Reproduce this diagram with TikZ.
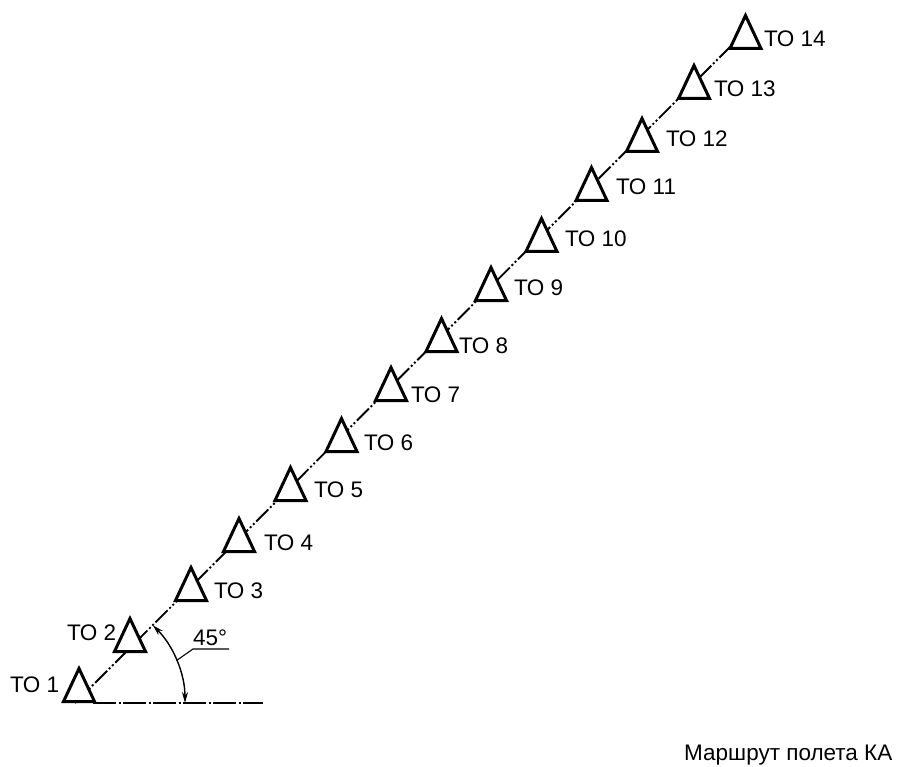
\documentclass[tikz,border=0pt]{standalone}
\usepackage{fontspec}
\setmainfont{Liberation Sans}
\usetikzlibrary{arrows.meta,calc}
\begin{document}
\begin{tikzpicture}[x=1pt,y=-1pt,
  tri/.style={draw=black,fill=white,line width=3pt,line join=miter},
  axisline/.style={line width=1.9pt,dash pattern=on 23pt off 2.5pt on 2pt off 2.5pt},
  routeline/.style={line width=1.9pt,dash pattern=on 17pt off 2.5pt on 2pt off 2.5pt on 2pt off 2.5pt},
  lbl/.style={anchor=base west,inner sep=0pt,font=\fontsize{22.5}{27}\selectfont},
  dimarc/.style={line width=1.4pt,{Stealth[length=11pt,width=6pt]}-{Stealth[length=11pt,width=6pt]}},
  leader/.style={line width=1.1pt}]
\useasboundingbox (0,0) rectangle (907,767);
% axes
\coordinate (v) at (75,703);
\coordinate (hstart) at (93,703);
\coordinate (hend) at (263,703);
\coordinate (rend) at (732,45);
\draw[axisline] (hstart) -- (hend);
\draw[routeline] (v) -- (rend);
% triangles
\foreach \n/\x/\y in {1/79/701.5,2/130/651.5,3/191/600.5,4/239/551.5,5/290.5/500.5,6/341.5/451.5,7/391/400.5,8/441.5/351.5,9/491/300.5,10/541.5/251.5,11/591.5/200.5,12/642/151.5,13/694/98.5,14/745.5/48.5}{
  \coordinate (b\n) at (\x,\y);
  \draw[tri] ($(b\n)+(-15.5,0)$) -- ($(b\n)+(0,-33)$) -- ($(b\n)+(15.5,0)$) -- cycle;
}
% labels
\node[lbl] (l1) at (10,692) {ТО 1};
\node[lbl] (l2) at (67,640) {ТО 2};
\node[lbl] (l3) at (214,598) {ТО 3};
\node[lbl] (l4) at (264,550) {ТО 4};
\node[lbl] (l5) at (314,497) {ТО 5};
\node[lbl] (l6) at (364,450) {ТО 6};
\node[lbl] (l7) at (411,402) {ТО 7};
\node[lbl] (l8) at (459,353) {ТО 8};
\node[lbl] (l9) at (514,295) {ТО 9};
\node[lbl] (l10) at (565,247) {ТО 10};
\node[lbl] (l11) at (616,195) {ТО 11};
\node[lbl] (l12) at (666,147) {ТО 12};
\node[lbl] (l13) at (714,97) {ТО 13};
\node[lbl] (l14) at (764,47) {ТО 14};
% angle dimension
\draw[dimarc] (185,703) arc[start angle=0,end angle=-45,radius=110];
\coordinate (lp) at ($(v)+(-22.7:110)$);
\coordinate (lk) at (193,649);
\coordinate (le) at (229,649);
\draw[leader] (lp) -- (lk) -- (le);
\node[lbl] (ang) at (193,645) {45°};
% caption
\node[lbl] (cap) at (684,760) {Маршрут полета КА};
\end{tikzpicture}
\end{document}
